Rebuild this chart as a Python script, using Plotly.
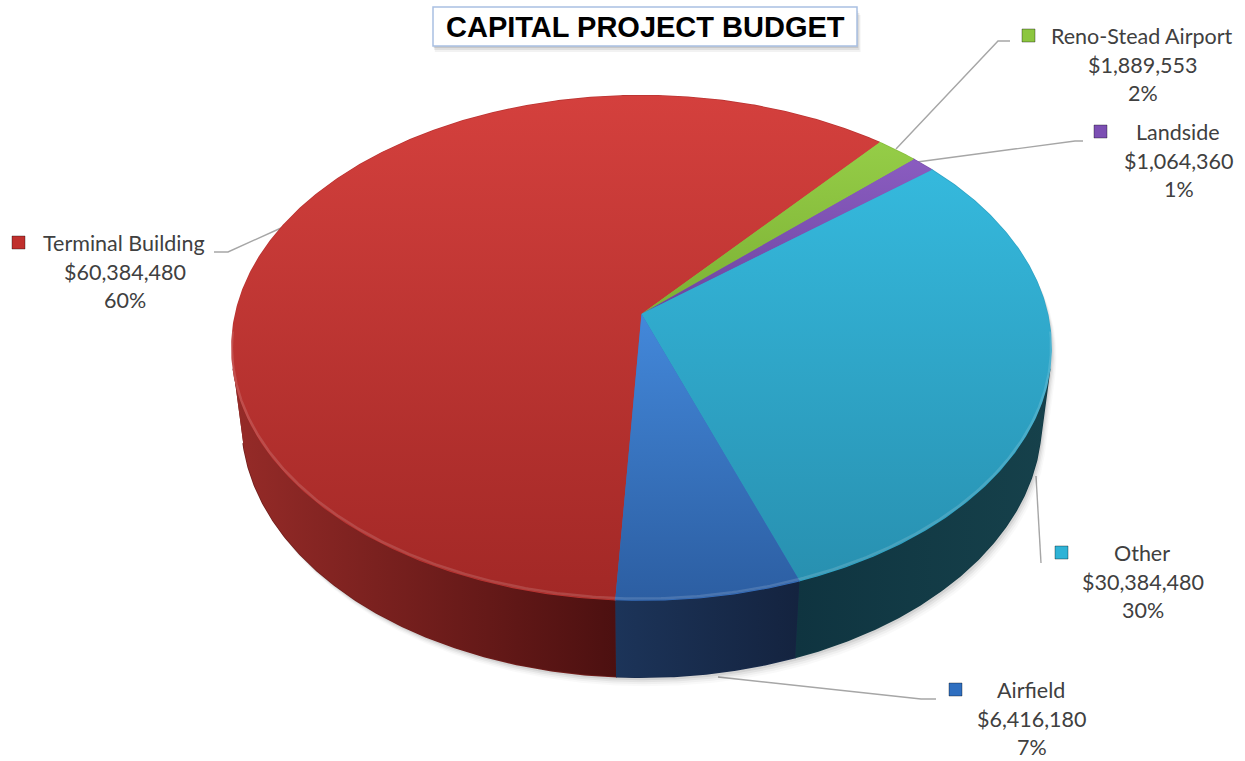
import math
import numpy as np
import plotly.graph_objects as go

# ---- data -------------------------------------------------------------
categories = ["Terminal Building", "Reno-Stead Airport", "Landside", "Other", "Airfield"]
budget = [60384480, 1889553, 1064360, 30384480, 6416180]
pct_labels = ["60%", "2%", "1%", "30%", "7%"]

# ---- styling ----------------------------------------------------------
top_colors = [("#d4403d", "#a22826"), ("#95cd47", "#7bb034"), ("#8a5cc0", "#6d45a0"),
              ("#35b9dd", "#2890b0"), ("#4388da", "#2c5ea2")]
top_mid = ["#bb3432", "#88bf3e", "#7c51b0", "#2fa5c7", "#376fbd"]
side_colors = [("#962b28", "#4c1010"), ("#52721f", "#3c5517"), ("#40295f", "#301f4a"),
               ("#0f3440", "#16414b"), ("#1c3459", "#14233f")]
side_mid = ["#711e1c", "#47641b", "#382455", "#123a45", "#182b4c"]
key_colors = ["#c0302d", "#8cc63f", "#7c4fb3", "#2fb3d6", "#2f6fc0"]

# label blocks: (name centre x, first line y, key square x)
label_pos = [(124, 243, 12), (1142, 36, 1022), (1178, 132, 1094), (1142, 553, 1055), (1031, 690, 949)]
line_gap = 28.5
leaders = [
    [(281, 228), (228, 252), (214, 252)],
    [(896, 149), (998, 41), (1010, 41)],
    [(917, 162), (1075, 141), (1083, 141)],
    [(1036, 476), (1041, 563)],
    [(718, 677), (921, 699), (936, 699)],
]

# ---- perspective projection of a flat cylinder --------------------------
F, D, BETA, T = 2395.0, 5.9, math.radians(37.6), 0.235
CX, CY = 641.5, 314.0
START = 266.8  # angle (deg, counter-clockwise from +x) where the first slice begins
sb, cb = math.sin(BETA), math.cos(BETA)


def proj(theta_deg, z, r=1.0):
    th = np.radians(np.asarray(theta_deg, dtype=float))
    x, y = r * np.cos(th), r * np.sin(th)
    depth = D + y * cb - z * sb
    X = F * x / depth
    Y = F * (y * sb + z * cb) / depth
    return CX + X, CY - Y


def arc(a, b, z, step=0.4):
    n = max(2, int(abs(b - a) / step) + 1)
    return proj(np.linspace(a, b, n), z)


total = float(sum(budget))
fracs = [v / total for v in budget]
cum = np.concatenate([[0.0], np.cumsum(fracs)])
spans = [(START - 360 * cum[i + 1], START - 360 * cum[i]) for i in range(len(budget))]

gen = math.degrees(math.asin(1.0 / (D * cb)))
vis_lo, vis_hi = 180 + gen, 360 - gen

fig = go.Figure()


def poly(px, py, color, width=0.0, lcolor=None, grad=None):
    kw = dict(x=px, y=py, fill="toself", mode="lines", fillcolor=color,
              line=dict(width=width, color=lcolor or color), hoverinfo="skip")
    if grad is not None:
        kw["fillgradient"] = grad
    fig.add_trace(go.Scatter(**kw))


# soft shadow under the pie
tx, ty = arc(vis_hi - 360, vis_lo, 0)
bx, by = arc(vis_lo, vis_hi, -T)
sx = np.concatenate([tx, bx])
sy = np.concatenate([ty, by])
for off, alpha in [(9, 0.025), (7, 0.035), (5, 0.05), (3, 0.07)]:
    poly(sx + off * 0.6, sy + off, f"rgba(0,0,0,{alpha})")

# outer wall of each slice
walls = []
for i, (lo, hi) in enumerate(spans):
    for k in (-1, 0, 1):
        a = max(lo, vis_lo + 360 * k)
        b = min(hi, vis_hi + 360 * k)
        if a >= b:
            continue
        ux, uy = arc(a, b, 0)
        dx, dy = arc(b, a, -T)
        walls.append((i, np.concatenate([ux, dx]), np.concatenate([uy, dy])))

for i, px, py in walls:  # under-pass closes anti-aliasing seams
    poly(px, py, side_mid[i], 1.6, side_mid[i])
for i, px, py in walls:
    c0, c1 = side_colors[i]
    poly(px, py, c1, grad=dict(type="horizontal", colorscale=[[0, c0], [1, c1]],
                               start=float(px.min()), stop=float(px.max())))

# top faces
tops = []
for i, (lo, hi) in enumerate(spans):
    ax, ay = arc(hi, lo, 0)
    tops.append((i, np.concatenate([[CX], ax, [CX]]), np.concatenate([[CY], ay, [CY]])))

for i, px, py in tops:
    poly(px, py, top_mid[i], 1.6, top_mid[i])
for i, px, py in tops:
    c0, c1 = top_colors[i]
    poly(px, py, c1, grad=dict(type="vertical", colorscale=[[0, c0], [1, c1]],
                               start=float(py.min()), stop=float(py.max())))

# bevel highlight along the front rim
hx, hy = arc(vis_lo - 8, vis_hi + 8, 0)
fig.add_trace(go.Scatter(x=hx, y=hy - 1.5, mode="lines",
                         line=dict(width=2.5, color="rgba(255,255,255,0.14)"),
                         hoverinfo="skip"))

# ---- labels -------------------------------------------------------------
font_lbl = dict(family="Lato, 'Open Sans', sans-serif", size=21.5, color="#404040")
shapes = []
annotations = []
for i, name in enumerate(categories):
    cxl, y0, kx = label_pos[i]
    lines = [name, f"${budget[i]:,}", pct_labels[i]]
    for j, txt in enumerate(lines):
        annotations.append(dict(x=cxl + (1 if j else 0), y=y0 + line_gap * j, text=txt,
                                showarrow=False, xanchor="center", yanchor="middle",
                                font=font_lbl))
    shapes.append(dict(type="rect", x0=kx, x1=kx + 13, y0=y0 - 7, y1=y0 + 6,
                       fillcolor=key_colors[i], line=dict(color="rgba(0,0,0,0.35)", width=1),
                       layer="above"))
    pts = leaders[i]
    path = "M " + " L ".join(f"{x},{y}" for x, y in pts)
    shapes.append(dict(type="path", path=path, line=dict(color="#a6a6a6", width=1.4),
                       layer="below"))

# title box with shadow
for off, alpha in [(6, 0.05), (4, 0.08), (2, 0.1)]:
    shapes.append(dict(type="rect", x0=433 + off * 0.3, x1=857 + off * 0.6, y0=9 + off, y1=46 + off,
                       fillcolor=f"rgba(0,0,0,{alpha})", line=dict(width=0), layer="above"))
shapes.append(dict(type="rect", x0=433, x1=857, y0=7, y1=46, fillcolor="white",
                   line=dict(color="#a9c0e2", width=1.5), layer="above"))
annotations.append(dict(x=645, y=27, text="<b>CAPITAL PROJECT BUDGET</b>", showarrow=False,
                        xanchor="center", yanchor="middle",
                        font=dict(family="Liberation Sans, Arial, sans-serif", size=29, color="black")))

fig.update_layout(
    width=1245, height=761,
    margin=dict(l=0, r=0, t=0, b=0),
    paper_bgcolor="white", plot_bgcolor="white",
    showlegend=False,
    xaxis=dict(range=[0, 1245], visible=False, fixedrange=True),
    yaxis=dict(range=[761, 0], visible=False, fixedrange=True),
    shapes=shapes,
    annotations=annotations,
)

fig.write_html("out.html")
